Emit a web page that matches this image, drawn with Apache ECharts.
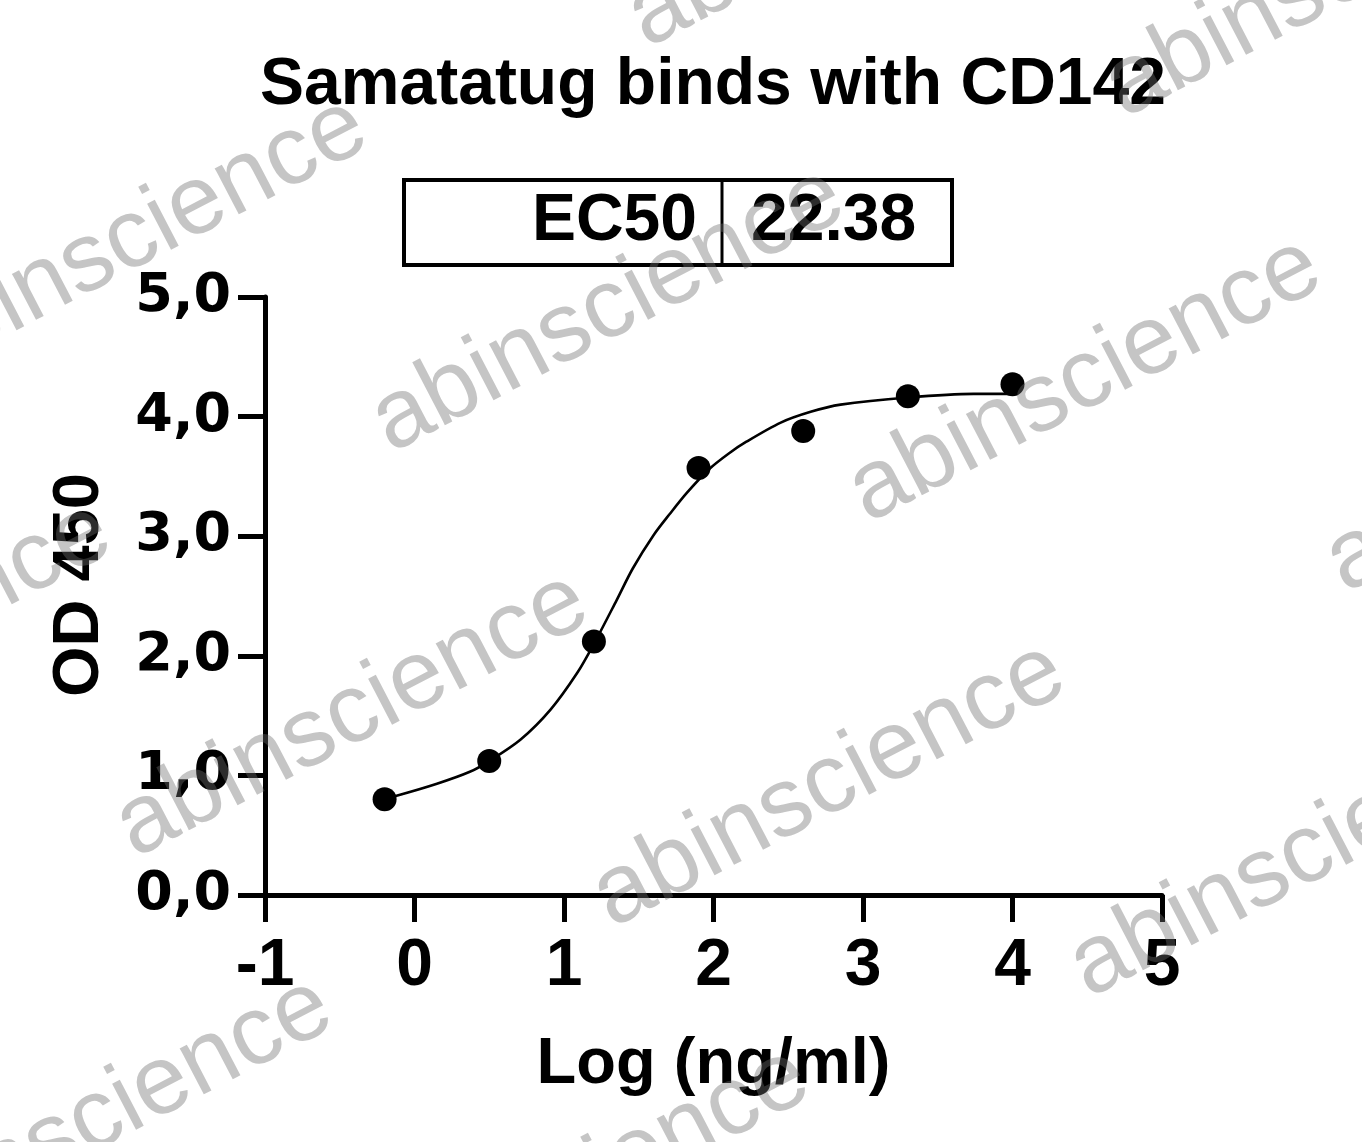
<!DOCTYPE html>
<html>
<head>
<meta charset="utf-8">
<title>Samatatug binds with CD142</title>
<script src="https://cdn.jsdelivr.net/npm/echarts@6/dist/echarts.min.js"></script>
<style>
    html,body{margin:0;padding:0;background:#fff;}
    #main{width:1362px;height:1142px;}
</style>
</head>
<body>
<div id="main"></div>
<script>
// measured points (log concentration, OD450)
var logConc=[-0.2,0.5,1.2,1.9,2.6,3.3,4.0];
var od450=[0.80,1.12,2.12,3.57,3.88,4.17,4.27];
// fitted curve
var fitX=[-0.2,-0.12,0.15,0.37,0.5,0.71,0.91,1.09,1.2,1.35,1.46,1.6,1.71,1.82,1.97,2.1,2.22,2.45,2.65,2.85,3.3,3.74,4.0];
var fitY=[0.81,0.83,0.93,1.03,1.12,1.30,1.55,1.86,2.10,2.46,2.73,3.01,3.19,3.36,3.56,3.69,3.79,3.95,4.04,4.10,4.16,4.19,4.19];
var xTickLabels=['-1','0','1','2','3','4','5'];
var yTickLabels=['0,0','1,0','2,0','3,0','4,0','5,0'];
var ec50Name='EC50';
var ec50Value='22.38';

var pts=[];
for (var i=0;i<logConc.length;i++){
    pts.push([logConc[i],od450[i]]);
}
var fit=[];
for (var j=0;j<fitX.length;j++){
    fit.push([fitX[j],fitY[j]]);
}

// watermark lattice
var marks=[];
var ang=27.5*Math.PI/180;
for (var a=-3;a<=2;a++){
    for (var b=-2;b<=1;b++){
        var cx=829+a*477+b*(-256);
        var cy=785+a*70+b*405;
        if (cx<-300||cx>1660||cy<-200||cy>1220) continue;
        marks.push({
            type:'text',
            x:cx,
            y:cy,
            rotation:ang,
            z:100,
            silent:true,
            style:{
                text:'abinscience',
                font:'98px "Liberation Sans", Arial, sans-serif',
                fill:'rgba(110,110,110,0.4)',
                align:'center',
                verticalAlign:'middle'
            }
        });
    }
}

var boldFont='"Liberation Sans", Arial, sans-serif';
var graphics=[
    {
        type:'rect',
        shape:{x:404,y:180,width:548,height:85},
        style:{fill:'#fff',stroke:'#000',lineWidth:4},
        z:10
    },
    {
        type:'line',
        shape:{x1:722,y1:180,x2:722,y2:265},
        style:{stroke:'#000',lineWidth:3},
        z:11
    },
    {
        type:'text',
        x:697,y:222,z:11,
        style:{text:ec50Name,font:'bold 66px '+boldFont,fill:'#000',align:'right',verticalAlign:'middle'}
    },
    {
        type:'text',
        x:751,y:222,z:11,
        style:{text:ec50Value,font:'bold 66px '+boldFont,fill:'#000',align:'left',verticalAlign:'middle'}
    }
].concat(marks);

var option={
    animation:false,
    title:{
        text:'Samatatug binds with CD142',
        left:713,
        top:53,
        padding:0,
        textAlign:'center',
        textStyle:{
            fontFamily:boldFont,
            fontSize:66,
            fontWeight:'bold',
            color:'#000'
        }
    },
    grid:{
        left:265,
        right:200,
        top:297,
        bottom:247,
        containLabel:false
    },
    xAxis:{
        type:'value',
        min:-1,
        max:5,
        interval:1,
        name:'Log (ng/ml)',
        nameLocation:'middle',
        nameGap:138,
        nameTextStyle:{fontFamily:boldFont,fontSize:65,fontWeight:'bold',color:'#000'},
        axisLine:{show:true,onZero:false,lineStyle:{color:'#000',width:5}},
        axisTick:{show:true,length:27,lineStyle:{color:'#000',width:5}},
        axisLabel:{
            margin:39,
            fontFamily:boldFont,
            fontSize:66,
            fontWeight:'bold',
            color:'#000',
            formatter:function (v) {
                return xTickLabels[Math.round(v+1)];
            }
        },
        splitLine:{show:false}
    },
    yAxis:{
        type:'value',
        min:0,
        max:5,
        interval:1,
        name:'OD 450',
        nameLocation:'middle',
        nameGap:152,
        nameTextStyle:{fontFamily:boldFont,fontSize:65,fontWeight:'bold',color:'#000',padding:[0,0,0,22]},
        axisLine:{show:true,onZero:false,lineStyle:{color:'#000',width:5}},
        axisTick:{show:true,length:27,lineStyle:{color:'#000',width:5}},
        axisLabel:{
            margin:34,
            fontFamily:'"DejaVu Sans", sans-serif',
            fontSize:54,
            fontWeight:'bold',
            color:'#000',
            formatter:function (v) {
                return yTickLabels[Math.round(v)];
            }
        },
        splitLine:{show:false}
    },
    series:[
        {
            name:'fit',
            type:'line',
            data:fit,
            smooth:0.3,
            showSymbol:false,
            lineStyle:{color:'#000',width:2.6},
            z:3
        },
        {
            name:'OD450',
            type:'scatter',
            data:pts,
            symbol:'circle',
            symbolSize:24,
            itemStyle:{color:'#000',opacity:1},
            z:4
        }
    ],
    graphic:graphics
};

var myChart=echarts.init(document.getElementById('main'));
myChart.setOption(option);
</script>
</body>
</html>
